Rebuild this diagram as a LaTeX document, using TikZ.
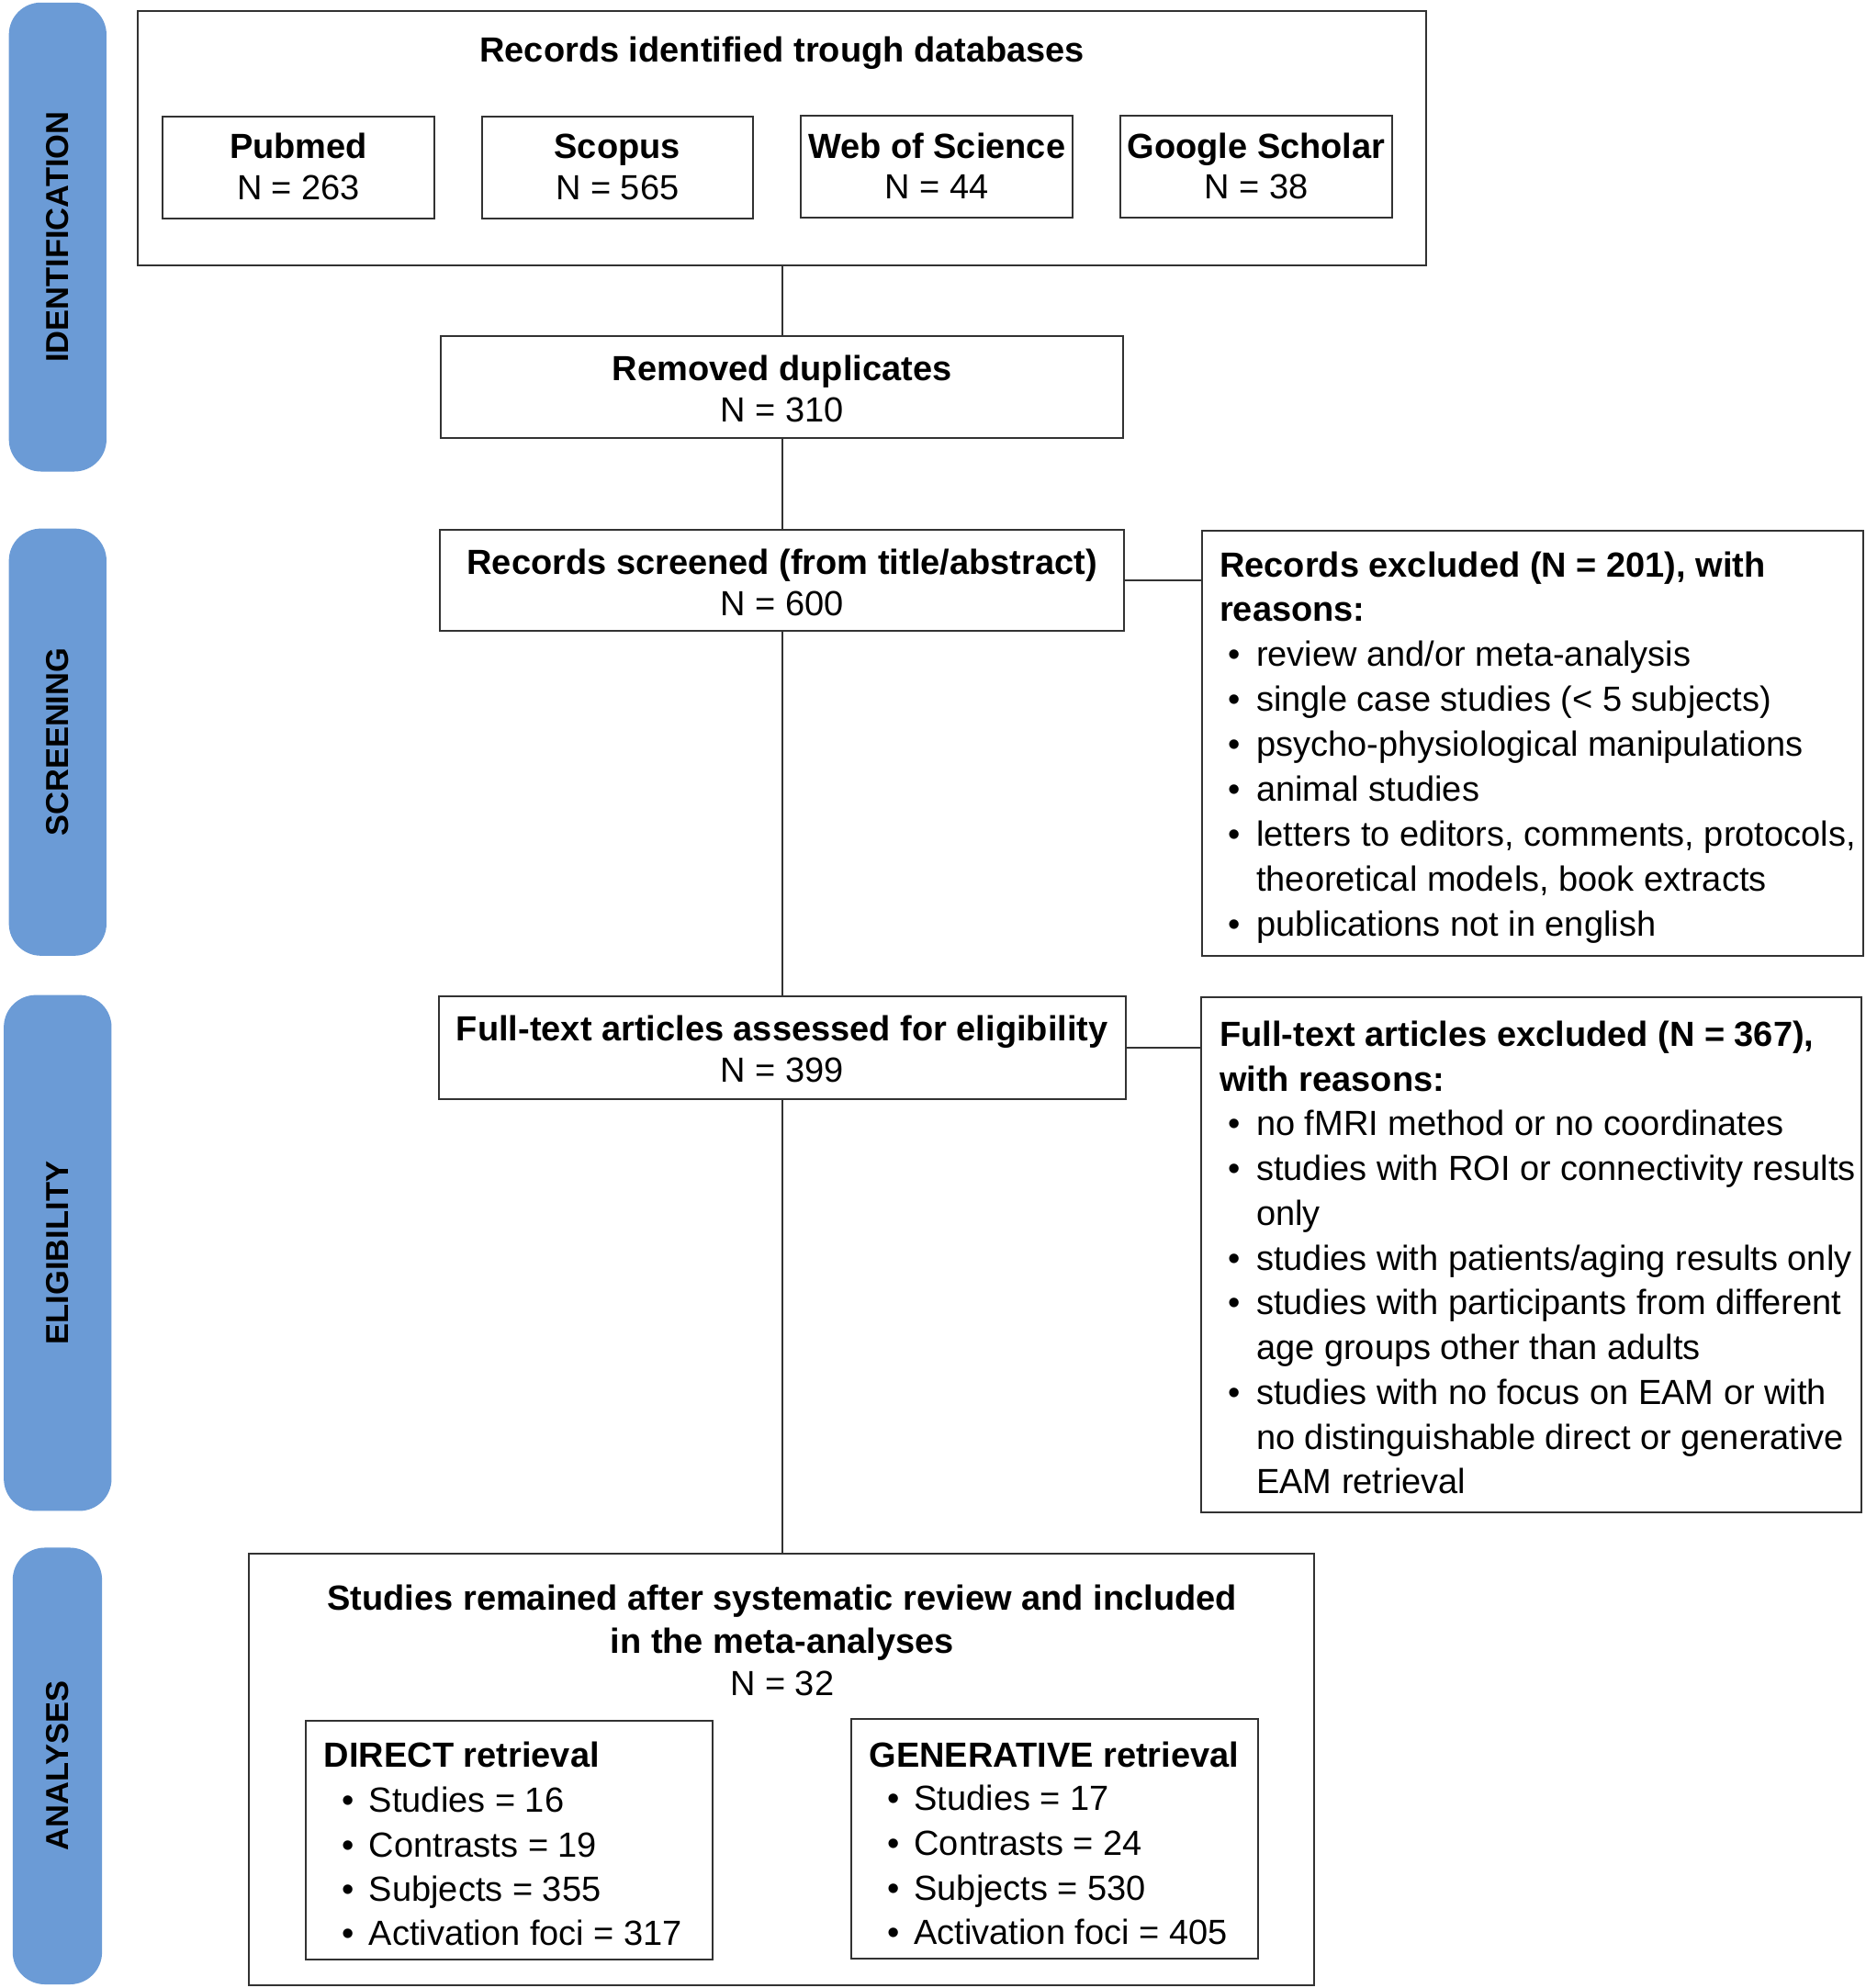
\documentclass[tikz,border=0pt]{standalone}
\usepackage{fontspec}
\setmainfont{Liberation Sans}
\usetikzlibrary{fit}
\definecolor{barblue}{RGB}{107,155,214}
\definecolor{boxgray}{RGB}{50,50,50}
\tikzset{
  box/.style={draw=boxgray, line width=2pt, inner sep=0pt},
  bar/.style={fill=barblue, rounded corners=35pt, inner sep=0pt},
  barlabel/.style={rotate=90, inner sep=0pt, font=\fontsize{34.5}{34.5}\selectfont\bfseries},
  txt/.style={inner sep=0pt, font=\fontsize{38}{45}\selectfont},
  txtb/.style={inner sep=0pt, font=\fontsize{38}{45}\selectfont\bfseries},
  conn/.style={draw=boxgray, line width=1.6pt}
}
\newcommand\bitem[5]{%
  \node[txt,anchor=base] (#1d) at (#2,#4) {•};
  \node[txt,anchor=base west] (#1) at (#3,#4) {#5};}
\begin{document}
\begin{tikzpicture}[x=1.3804pt,y=-1.3804pt]
\useasboundingbox (0,0) rectangle (1472,1568.4);
\fill[white] (0,0) rectangle (1472,1568.4);

% side bars
\node[bar, fit={(7,2) (84,372)}] (barid) {};
\node[bar, fit={(7,417) (84,754)}] (barsc) {};
\node[bar, fit={(3,785) (88,1192)}] (barel) {};
\node[bar, fit={(10,1221) (80.5,1565.5)}] (baran) {};
\node[barlabel] (lid) at (barid.center) {IDENTIFICATION};
\node[barlabel] (lsc) at (barsc.center) {SCREENING};
\node[barlabel] (lel) at (barel.center) {ELIGIBILITY};
\node[barlabel] (lan) at (baran.center) {ANALYSES};

% boxes
\node[box, fit={(109,9) (1125,209.5)}] (idbox) {};
\node[box, fit={(128.2,92) (342.7,172.4)}] (pub) {};
\node[box, fit={(380,92) (594,172.4)}] (sco) {};
\node[box, fit={(632,91) (846,171.4)}] (wos) {};
\node[box, fit={(884,91) (1098,171.4)}] (gsc) {};
\node[box, fit={(348,265) (886,345.5)}] (dup) {};
\node[box, fit={(347,418) (887,498)}] (scr) {};
\node[box, fit={(948,419) (1469.5,754)}] (exc1) {};
\node[box, fit={(346,786) (888,867)}] (full) {};
\node[box, fit={(947.5,786.5) (1468.4,1193)}] (exc2) {};
\node[box, fit={(196.5,1226) (1037,1566)}] (stud) {};
\node[box, fit={(241,1357.5) (562,1546)}] (dir) {};
\node[box, fit={(671.5,1356) (992.5,1545)}] (gen) {};

% connectors
\draw[conn] (idbox.south) -- (idbox.south |- dup.north);
\draw[conn] (dup.south) -- (dup.south |- scr.north);
\draw[conn] (scr.south) -- (scr.south |- full.north);
\draw[conn] (full.south) -- (full.south |- stud.north);
\draw[conn] (scr.east) -- (scr.east -| exc1.west);
\draw[conn] (full.east) -- (full.east -| exc2.west);

% identification texts
\node[txtb, anchor=base] (tid) at (617,49) {Records identified trough databases};
\node[txtb, anchor=base] (tpub1) at (235.5,125.2) {Pubmed};
\node[txt, anchor=base] (tpub2) at (235.5,157.5) {N = 263};
\node[txtb, anchor=base] (tsco1) at (487,125.2) {Scopus};
\node[txt, anchor=base] (tsco2) at (487,157.5) {N = 565};
\node[txtb, anchor=base] (twos1) at (739,124.7) {Web of Science};
\node[txt, anchor=base] (twos2) at (739,157) {N = 44};
\node[txtb, anchor=base] (tgsc1) at (991,124.7) {Google Scholar};
\node[txt, anchor=base] (tgsc2) at (991,157) {N = 38};

\node[txtb, anchor=base] (tdup1) at (617,300) {Removed duplicates};
\node[txt, anchor=base] (tdup2) at (617,333.2) {N = 310};
\node[txtb, anchor=base] (tscr1) at (617,453) {Records screened (from title/abstract)};
\node[txt, anchor=base] (tscr2) at (617,486) {N = 600};
\node[txtb, anchor=base] (tful1) at (617,820.8) {Full-text articles assessed for eligibility};
\node[txt, anchor=base] (tful2) at (617,853.8) {N = 399};

% excluded 1
\node[txtb, anchor=base west] (te1a) at (962,455) {Records excluded (N = 201), with};
\node[txtb, anchor=base west] (te1b) at (962,490.4) {reasons:};
\bitem{e1i1}{974}{991}{525.8}{review and/or meta-analysis}
\bitem{e1i2}{974}{991}{561.2}{single case studies (< 5 subjects)}
\bitem{e1i3}{974}{991}{596.6}{psycho-physiological manipulations}
\bitem{e1i4}{974}{991}{632}{animal studies}
\bitem{e1i5}{974}{991}{667.4}{letters to editors, comments, protocols,}
\node[txt, anchor=base west] (e1i5c) at (991,702.8) {theoretical models, book extracts};
\bitem{e1i6}{974}{991}{738.2}{publications not in english}

% excluded 2
\node[txtb, anchor=base west] (te2a) at (962,825.5) {Full-text articles excluded (N = 367),};
\node[txtb, anchor=base west] (te2b) at (962,860.8) {with reasons:};
\bitem{e2i1}{974}{991}{896.1}{no fMRI method or no coordinates}
\bitem{e2i2}{974}{991}{931.4}{studies with ROI or connectivity results}
\node[txt, anchor=base west] (e2i2c) at (991,966.7) {only};
\bitem{e2i3}{974}{991}{1002}{studies with patients/aging results only}
\bitem{e2i4}{974}{991}{1037.3}{studies with participants from different}
\node[txt, anchor=base west] (e2i4c) at (991,1072.6) {age groups other than adults};
\bitem{e2i5}{974}{991}{1107.9}{studies with no focus on EAM or with}
\node[txt, anchor=base west] (e2i5c) at (991,1143.2) {no distinguishable direct or generative};
\node[txt, anchor=base west] (e2i5d) at (991,1178.5) {EAM retrieval};

% analyses
\node[txtb, anchor=base] (ts1) at (617,1270.5) {Studies remained after systematic review and included};
\node[txtb, anchor=base] (ts2) at (617,1304) {in the meta-analyses};
\node[txt, anchor=base] (ts3) at (617,1337.3) {N = 32};

\node[txtb, anchor=base west] (tdir) at (255.5,1394.5) {DIRECT retrieval};
\bitem{d1}{275}{291}{1430}{Studies = 16}
\bitem{d2}{275}{291}{1465.5}{Contrasts = 19}
\bitem{d3}{275}{291}{1500}{Subjects = 355}
\bitem{d4}{275}{291}{1535}{Activation foci = 317}

\node[txtb, anchor=base west] (tgen) at (685.5,1394) {GENERATIVE retrieval};
\bitem{g1}{705}{721}{1428.5}{Studies = 17}
\bitem{g2}{705}{721}{1464}{Contrasts = 24}
\bitem{g3}{705}{721}{1499}{Subjects = 530}
\bitem{g4}{705}{721}{1534}{Activation foci = 405}
\end{tikzpicture}
\end{document}
